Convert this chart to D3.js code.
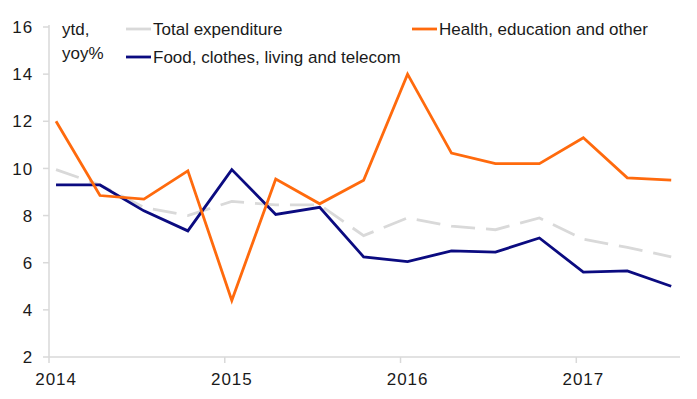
<!DOCTYPE html>
<html>
<head>
  <meta charset="utf-8">
  <script src="https://d3js.org/d3.v7.min.js"></script>
  <style>
    body{margin:0;background:#fff;}
    svg{display:block;font-family:"Liberation Sans",Arial,sans-serif;}
    .tick-label{font-size:17px;fill:#1a1a1a;letter-spacing:0.9px;}
    .legend text{font-size:17px;fill:#1a1a1a;}
  </style>
</head>
<body>
<svg></svg>
<script>
// quarterly ytd yoy% readings, Q1 2014 .. Q3 2017
var quarters = ["2014Q1","2014Q2","2014Q3","2014Q4","2015Q1","2015Q2","2015Q3","2015Q4",
                "2016Q1","2016Q2","2016Q3","2016Q4","2017Q1","2017Q2","2017Q3"];
var totalExp  = [9.95, 9.3, 8.35, 8.0, 8.6, 8.45, 8.45, 7.15, 7.9, 7.55, 7.4, 7.9, 7.0, 6.65, 6.25];
var foodEtc   = [9.3, 9.3, 8.2, 7.35, 9.95, 8.05, 8.35, 6.25, 6.05, 6.5, 6.45, 7.05, 5.6, 5.65, 5.0];
var healthEtc = [12.0, 8.85, 8.7, 9.9, 4.4, 9.55, 8.5, 9.5, 14.0, 10.65, 10.2, 10.2, 11.3, 9.6, 9.5];
var yTicks = [2, 4, 6, 8, 10, 12, 14, 16];
var years = [2014, 2015, 2016, 2017];

var series = [
  {name: "Total expenditure", values: totalExp, color: "#d9d9d9", dash: "24,11"},
  {name: "Food, clothes, living and telecom", values: foodEtc, color: "#0b0b80", dash: null},
  {name: "Health, education and other", values: healthEtc, color: "#ff6a0d", dash: null}
];

var W = 697, H = 399;
var svg = d3.select("svg").attr("width", W).attr("height", H);

// quarter string -> fractional year (points sit just after the period start)
function qPos(q) {
  return +q.slice(0, 4) + (+q.slice(5) - 1) * 0.25 + 0.04;
}

var x = d3.scaleLinear().domain([2014, 2017.59]).range([49, 680]);
var y = d3.scaleLinear().domain([2, 16]).range([357, 27]);

var axisColor = "#d9d9d9";

// y axis
svg.append("line")
  .attr("x1", x(2014)).attr("x2", x(2014))
  .attr("y1", y(16) - 2).attr("y2", y(2))
  .attr("stroke", axisColor).attr("stroke-width", 1.5);
var yt = svg.selectAll(".ytick").data(yTicks).enter().append("g").attr("class", "ytick");
yt.append("line")
  .attr("x1", x(2014) - 6).attr("x2", x(2014))
  .attr("y1", function(d){ return y(d); }).attr("y2", function(d){ return y(d); })
  .attr("stroke", axisColor).attr("stroke-width", 1.5);
yt.append("text").attr("class", "tick-label")
  .attr("x", 33).attr("y", function(d){ return y(d); })
  .attr("dy", "0.36em").attr("text-anchor", "end")
  .text(function(d){ return d; });

// x axis
svg.append("line")
  .attr("x1", x(2014)).attr("x2", x(2017.59))
  .attr("y1", y(2)).attr("y2", y(2))
  .attr("stroke", axisColor).attr("stroke-width", 1.5);
var xt = svg.selectAll(".xtick").data(years).enter().append("g").attr("class", "xtick");
xt.append("line")
  .attr("x1", function(d){ return x(d); }).attr("x2", function(d){ return x(d); })
  .attr("y1", y(2)).attr("y2", y(2) + 6)
  .attr("stroke", axisColor).attr("stroke-width", 1.5);
xt.append("text").attr("class", "tick-label")
  .attr("x", function(d){ return x(d + 0.04); }).attr("y", 385)
  .attr("text-anchor", "middle")
  .text(function(d){ return d; });

// lines
var line = d3.line()
  .x(function(d, i){ return x(qPos(quarters[i])); })
  .y(function(d){ return y(d); });

svg.selectAll(".series").data(series).enter().append("path")
  .attr("class", "series")
  .attr("d", function(s){ return line(s.values); })
  .attr("fill", "none")
  .attr("stroke", function(s){ return s.color; })
  .attr("stroke-width", 2.8)
  .attr("stroke-linejoin", "miter")
  .attr("stroke-dasharray", function(s){ return s.dash; });

// unit label
var unit = svg.append("g").attr("class", "legend");
unit.append("text").attr("x", 62).attr("y", 35).text("ytd,");
unit.append("text").attr("x", 62).attr("y", 59).text("yoy%");

// legend
var legendPos = [[126, 29], [126, 57], [412, 29]];
var lg = svg.append("g").attr("class", "legend").selectAll("g").data(series).enter().append("g")
  .attr("transform", function(d, i){ return "translate(" + legendPos[i][0] + "," + legendPos[i][1] + ")"; });
lg.append("line")
  .attr("x1", 0).attr("x2", 25).attr("y1", 0).attr("y2", 0)
  .attr("stroke", function(d){ return d.color; }).attr("stroke-width", 2.8);
lg.append("text").attr("x", 27).attr("y", 6).text(function(d){ return d.name; });
</script>
</body>
</html>
